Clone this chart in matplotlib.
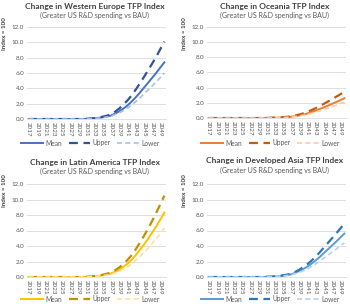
import matplotlib
matplotlib.use("Agg")
import matplotlib.pyplot as plt

plt.rcParams['font.family'] = ['Lato', 'DejaVu Sans']

years = list(range(2017, 2051))
tick_years = list(range(2017, 2051, 2))

# 2017..2030 all zero, then 2031..2050
zeros = [0.0] * 14

we_mean = zeros + [0.02, 0.05, 0.08, 0.15, 0.22, 0.32, 0.45, 0.7, 1.0, 1.35, 1.75, 2.25, 2.8, 3.4, 4.05, 4.7, 5.35, 6.0, 6.7, 7.4]
we_upper = zeros + [0.02, 0.06, 0.1, 0.2, 0.3, 0.43, 0.6, 0.95, 1.35, 1.85, 2.4, 3.05, 3.8, 4.6, 5.45, 6.3, 7.2, 8.1, 9.1, 10.1]
we_lower = zeros + [0.02, 0.04, 0.07, 0.12, 0.18, 0.26, 0.37, 0.57, 0.8, 1.08, 1.4, 1.8, 2.25, 2.72, 3.25, 3.77, 4.3, 4.82, 5.4, 6.0]

oc_mean = zeros + [0.01, 0.02, 0.03, 0.05, 0.08, 0.11, 0.16, 0.24, 0.34, 0.46, 0.6, 0.78, 0.97, 1.18, 1.4, 1.63, 1.86, 2.1, 2.35, 2.6]
oc_upper = zeros + [0.01, 0.03, 0.04, 0.07, 0.1, 0.15, 0.21, 0.32, 0.45, 0.61, 0.8, 1.04, 1.29, 1.57, 1.86, 2.17, 2.48, 2.8, 3.12, 3.45]
oc_lower = zeros + [0.01, 0.02, 0.02, 0.04, 0.06, 0.09, 0.13, 0.19, 0.27, 0.37, 0.48, 0.62, 0.78, 0.94, 1.12, 1.3, 1.49, 1.68, 1.89, 2.1]

la_mean = zeros + [0.02, 0.05, 0.09, 0.15, 0.23, 0.33, 0.45, 0.68, 0.95, 1.3, 1.7, 2.2, 2.8, 3.45, 4.15, 4.9, 5.7, 6.5, 7.4, 8.3]
la_upper = zeros + [0.03, 0.06, 0.11, 0.19, 0.29, 0.42, 0.58, 0.87, 1.22, 1.67, 2.18, 2.8, 3.55, 4.38, 5.25, 6.2, 7.2, 8.25, 9.35, 10.5]
la_lower = zeros + [0.02, 0.04, 0.07, 0.11, 0.17, 0.25, 0.34, 0.52, 0.72, 0.99, 1.29, 1.67, 2.13, 2.62, 3.15, 3.72, 4.33, 4.94, 5.62, 6.3]

da_mean = zeros + [0.02, 0.04, 0.06, 0.11, 0.17, 0.24, 0.34, 0.53, 0.76, 1.03, 1.33, 1.71, 2.13, 2.58, 3.08, 3.57, 4.07, 4.56, 5.09, 5.6]
da_upper = zeros + [0.02, 0.05, 0.07, 0.14, 0.21, 0.3, 0.42, 0.65, 0.93, 1.27, 1.64, 2.1, 2.62, 3.17, 3.79, 4.39, 5.0, 5.6, 6.25, 6.9]
da_lower = zeros + [0.02, 0.03, 0.05, 0.09, 0.13, 0.19, 0.27, 0.42, 0.6, 0.81, 1.05, 1.35, 1.68, 2.04, 2.43, 2.82, 3.21, 3.6, 4.0, 4.4]

regions = ["Western Europe", "Oceania", "Latin America", "Developed Asia"]
means = [we_mean, oc_mean, la_mean, da_mean]
uppers = [we_upper, oc_upper, la_upper, da_upper]
lowers = [we_lower, oc_lower, la_lower, da_lower]
colors = [("#4472C4", "#2F5597", "#A9BDE6"),
          ("#ED7D31", "#C55A11", "#F8CBAD"),
          ("#FFC000", "#BF9000", "#FFE199"),
          ("#5B9BD5", "#2E75B6", "#B4D2EC")]

W, H = 350, 304
fig = plt.figure(figsize=(W / 100, H / 100), dpi=100)

# left, top, right, bottom in pixels
boxes = [(27, 27, 166, 119), (207, 27, 346, 118), (27, 184, 166, 277), (207, 184, 346, 277)]
title_y = [6, 6, 162, 161]

for i, name in enumerate(regions):
    l, t, r, b = boxes[i]
    ax = fig.add_axes([l / W, 1 - b / H, (r - l) / W, (b - t) / H])
    cm, cu, cl = colors[i]
    ax.plot(years, means[i], color=cm, lw=1.4, label="Mean")
    ax.plot(years, uppers[i], color=cu, lw=1.6, ls=(0, (4, 2.5)), label="Upper")
    ax.plot(years, lowers[i], color=cl, lw=1.2, ls=(0, (3, 2)), label="Lower")
    ax.set_xlim(2016.6, 2050.4)
    ax.set_ylim(0, 12)
    ax.set_yticks([0, 2, 4, 6, 8, 10, 12])
    ax.set_yticklabels([f"{v:.1f}" for v in [0, 2, 4, 6, 8, 10, 12]])
    ax.set_xticks(tick_years)
    ax.set_xticklabels([str(y) for y in tick_years], rotation=-90)
    ax.tick_params(axis='both', length=0, labelsize=4.5, colors="#595959", pad=2)
    ax.grid(axis='y', color="#D9D9D9", lw=0.6)
    ax.set_axisbelow(True)
    for s in ["top", "right", "left"]:
        ax.spines[s].set_visible(False)
    ax.spines["bottom"].set_color("#D9D9D9")
    ax.spines["bottom"].set_linewidth(0.6)

    cx = (l + r) / 2 - 2
    fig.text(cx / W, 1 - title_y[i] / H, f"Change in {name} TFP Index",
             ha="center", va="center", fontsize=6, fontweight="bold", color="#404040")
    fig.text(cx / W, 1 - (title_y[i] + 9) / H, "(Greater US R&D spending vs BAU)",
             ha="center", va="center", fontsize=5, color="#595959")
    fig.text((l - 22) / W, 1 - (t + 7) / H, "Index = 100", rotation=90,
             ha="center", va="center", fontsize=4.5, fontweight="bold", color="#404040")

    leg_y = 143 if i < 2 else 299
    ax.legend(loc="center", bbox_to_anchor=((cx - 4) / W, 1 - leg_y / H),
              bbox_transform=fig.transFigure, ncol=3, frameon=False,
              fontsize=4.8, handlelength=3.2, columnspacing=1.0, handletextpad=0.4,
              borderpad=0.1, labelcolor="#595959")

fig.savefig("out.png", dpi=100)
